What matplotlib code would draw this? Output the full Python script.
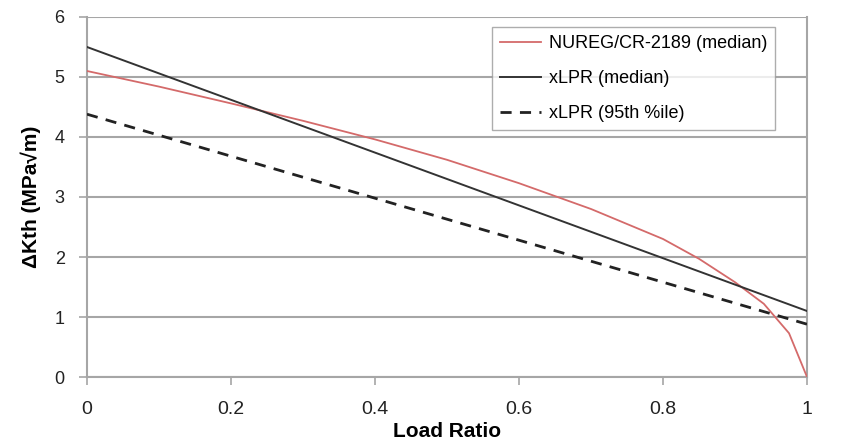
import matplotlib
matplotlib.use("Agg")
import matplotlib.pyplot as plt

# NUREG/CR-2189 median curve
R_NUREG = [0.0, 0.1, 0.2, 0.3, 0.4, 0.5, 0.6, 0.7, 0.8, 0.85, 0.9, 0.94, 0.975, 1.0]
DK_NUREG = [5.10, 4.84, 4.56, 4.27, 3.96, 3.62, 3.23, 2.80, 2.30, 1.97, 1.58, 1.22, 0.73, 0.0]

# xLPR lines
R_XLPR = [0.0, 1.0]
DK_XLPR_MED = [5.50, 1.10]
DK_XLPR_95 = [4.38, 0.88]

XTICKS = [0, 0.2, 0.4, 0.6, 0.8, 1]
XTICK_LABELS = ["0", "0.2", "0.4", "0.6", "0.8", "1"]
YTICKS = [0, 1, 2, 3, 4, 5, 6]

plt.rcParams["font.family"] = ["Liberation Sans", "DejaVu Sans"]
GRID = "#a6a6a6"

fig = plt.figure(figsize=(8.41, 4.46), dpi=100)
ax = fig.add_axes([0.1034, 0.1547, 0.8562, 0.8072])

ax.plot(R_NUREG, DK_NUREG, color="#d46a6a", lw=1.3, label="NUREG/CR-2189 (median)", zorder=3)
ax.plot(R_XLPR, DK_XLPR_MED, color="#333333", lw=1.4, label="xLPR (median)", zorder=3)
ax.plot(R_XLPR, DK_XLPR_95, color="#222222", lw=2.0, ls=(0, (4, 3)),
        label="xLPR (95th %ile)", zorder=3)

ax.set_xlim(0, 1)
ax.set_ylim(0, 6)
ax.set_xticks(XTICKS)
ax.set_xticklabels(XTICK_LABELS)
ax.set_yticks(YTICKS)
ax.grid(axis="y", color=GRID, lw=1.5)
ax.set_axisbelow(True)
for side in ["left", "bottom", "right"]:
    ax.spines[side].set_color(GRID)
    ax.spines[side].set_linewidth(1.5)
ax.spines["top"].set_visible(False)
ax.tick_params(axis="both", colors=GRID, labelcolor="#222222",
               length=6, width=1.2, direction="out")
ax.tick_params(axis="x", labelsize=14, pad=11)
ax.tick_params(axis="y", labelsize=13, pad=10)

ax.set_xlabel("Load Ratio", fontsize=15, fontweight="bold", labelpad=3)
ax.set_ylabel("ΔKth (MPa√m)", fontsize=15, fontweight="bold", labelpad=10)

leg = ax.legend(loc="upper right", bbox_to_anchor=(0.9556, 0.972), fontsize=13,
                frameon=True, fancybox=False, borderpad=0.45, labelspacing=1.0,
                handlelength=2.3, handletextpad=0.4, borderaxespad=0)
leg.get_frame().set_edgecolor("#999999")
leg.get_frame().set_linewidth(1.0)

fig.savefig("out.png", dpi=100)
